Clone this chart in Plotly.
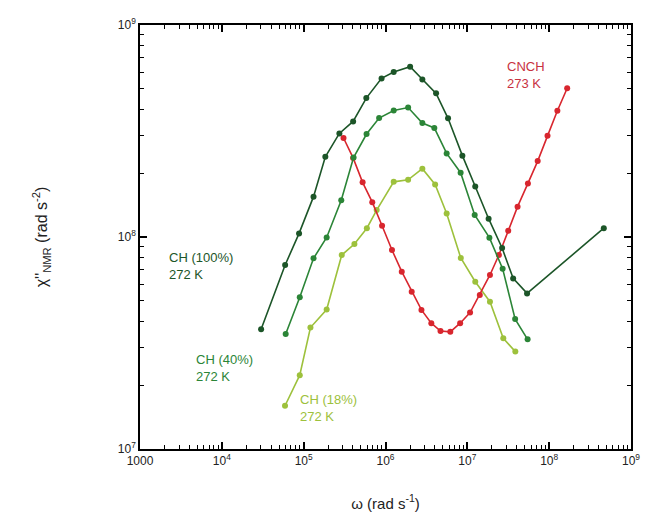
import plotly.graph_objects as go

# Angular frequency (rad/s) and NMR susceptibility chi'' (rad s^-2) per sample
omega_ch100 = [3.02e4, 5.94e4, 8.79e4, 1.32e5, 1.84e5, 2.73e5, 4.02e5, 5.83e5, 8.95e5,
               1.26e6, 2.0e6, 2.82e6, 4.15e6, 5.81e6, 8.7e6, 1.25e7, 1.82e7, 2.66e7,
               3.63e7, 5.37e7, 4.65e8]
chi_ch100 = [3.67e7, 7.38e7, 1.04e8, 1.55e8, 2.39e8, 3.08e8, 3.51e8, 4.52e8, 5.60e8,
             6.00e8, 6.36e8, 5.53e8, 4.76e8, 3.63e8, 2.42e8, 1.73e8, 1.22e8, 8.87e7,
             6.38e7, 5.42e7, 1.10e8]

omega_ch40 = [6.03e4, 8.96e4, 1.32e5, 1.91e5, 2.88e5, 4.07e5, 5.87e5, 8.36e5, 1.26e6,
              1.89e6, 2.82e6, 3.95e6, 5.59e6, 8.28e6, 1.23e7, 1.86e7, 2.70e7, 3.84e7,
              5.45e7]
chi_ch40 = [3.49e7, 5.20e7, 7.93e7, 9.95e7, 1.49e8, 2.37e8, 3.06e8, 3.64e8, 3.95e8,
            4.08e8, 3.45e8, 3.27e8, 2.48e8, 2.01e8, 1.27e8, 9.93e7, 7.09e7, 4.10e7,
            3.29e7]

omega_ch18 = [5.92e4, 8.96e4, 1.21e5, 1.91e5, 2.92e5, 4.17e5, 5.92e5, 7.80e5, 1.26e6,
              1.89e6, 2.82e6, 4.04e6, 5.59e6, 8.32e6, 1.25e7, 1.89e7, 2.75e7, 3.86e7]
chi_ch18 = [1.60e7, 2.23e7, 3.74e7, 4.55e7, 8.22e7, 9.27e7, 1.10e8, 1.34e8, 1.82e8,
            1.86e8, 2.10e8, 1.77e8, 1.29e8, 7.96e7, 6.15e7, 4.95e7, 3.33e7, 2.88e7]

omega_cnch = [3.07e5, 4.02e5, 5.25e5, 6.89e5, 9.08e5, 1.20e6, 1.58e6, 2.09e6, 2.75e6,
              3.63e6, 4.70e6, 6.19e6, 8.17e6, 1.08e7, 1.42e7, 1.89e7, 2.43e7, 3.16e7,
              4.11e7, 5.50e7, 7.24e7, 9.55e7, 1.26e8, 1.66e8]
chi_cnch = [2.93e8, 2.36e8, 1.81e8, 1.46e8, 1.13e8, 8.68e7, 6.86e7, 5.52e7, 4.53e7,
            3.92e7, 3.60e7, 3.57e7, 3.92e7, 4.40e7, 5.33e7, 6.62e7, 8.22e7, 1.07e8,
            1.39e8, 1.79e8, 2.28e8, 3.00e8, 3.94e8, 5.03e8]

x_tickvals = [1e3, 1e4, 1e5, 1e6, 1e7, 1e8, 1e9]
x_ticktext = ["1000", "10<sup>4</sup>", "10<sup>5</sup>", "10<sup>6</sup>",
              "10<sup>7</sup>", "10<sup>8</sup>", "10<sup>9</sup>"]
y_tickvals = [1e7, 1e8, 1e9]
y_ticktext = ["10<sup>7</sup>", "10<sup>8</sup>", "10<sup>9</sup>"]

series_labels = ["CH (100%)<br>272 K", "CH (40%)<br>272 K",
                 "CH (18%)<br>272 K", "CNCH<br>273 K"]

DARK = "#1c5528"
MID = "#2b8537"
LIGHT = "#9dc13c"
RED = "#d8262e"

fig = go.Figure()

def add_series(x, y, color):
    fig.add_trace(go.Scatter(
        x=x, y=y, mode="lines+markers",
        line=dict(color=color, width=1.6),
        marker=dict(color=color, size=6, symbol="circle"),
        showlegend=False, hoverinfo="x+y",
    ))

add_series(omega_ch18, chi_ch18, LIGHT)
add_series(omega_cnch, chi_cnch, RED)
add_series(omega_ch40, chi_ch40, MID)
add_series(omega_ch100, chi_ch100, DARK)

label_font = "Liberation Sans, Arial, sans-serif"
label_specs = [
    (series_labels[0], 0.056, 0.432, DARK),
    (series_labels[1], 0.11, 0.191, MID),
    (series_labels[2], 0.321, 0.096, LIGHT),
    (series_labels[3], 0.744, 0.882, "#c8323f"),
]
for text, px, py, col in label_specs:
    fig.add_annotation(
        x=px, y=py, xref="paper", yref="paper", text=text,
        showarrow=False, xanchor="left", yanchor="middle", align="left",
        font=dict(family=label_font, size=13, color=col),
    )

axis_common = dict(
    type="log", showgrid=False, zeroline=False,
    showline=True, linecolor="black", linewidth=1.6, mirror="ticks",
    ticks="inside", ticklen=7, tickwidth=1.5, tickcolor="black",
    tickfont=dict(family=label_font, size=12, color="#222"),
)
# minor ticks at 2..9 within each decade
minor_common = dict(ticks="inside", ticklen=4, tickwidth=1.2, tickcolor="black",
                    dtick="D1", showgrid=False)

fig.update_xaxes(
    **axis_common, range=[3, 9],
    tickvals=x_tickvals, ticktext=x_ticktext,
    minor=minor_common,
    title=dict(text="\u03c9 (rad s<sup>-1</sup>)", standoff=31,
               font=dict(family=label_font, size=15, color="#222")),
)
fig.update_yaxes(
    **axis_common, range=[7, 9],
    tickvals=y_tickvals, ticktext=y_ticktext,
    minor=minor_common,
    title=dict(text="\u03c7''<sub>NMR</sub> (rad s<sup>-2</sup>)", standoff=66,
               font=dict(family=label_font, size=16, color="#222")),
)

fig.update_layout(
    width=650, height=524,
    margin=dict(l=140, r=10, t=25, b=75),
    paper_bgcolor="white", plot_bgcolor="white",
)

fig.write_html("out.html")
